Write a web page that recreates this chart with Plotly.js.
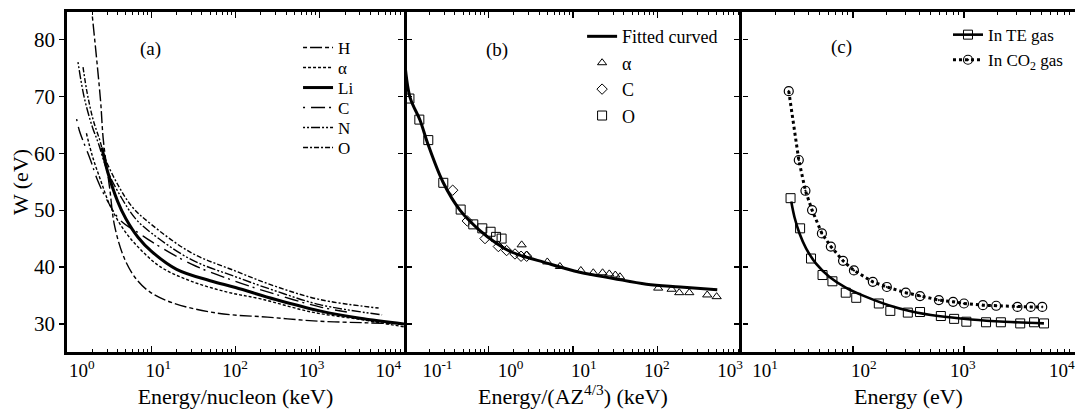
<!DOCTYPE html>
<html><head><meta charset="utf-8">
<script src="https://cdn.plot.ly/plotly-3.0.1.min.js"></script>
<style>html,body{margin:0;padding:0;background:#fff}#chart{width:1075px;height:413px}</style>
</head><body><div id="chart"></div>
<script>
// ---------- Panel (a): W vs Energy/nucleon (keV) ----------
const hE  = [2.0, 2.5, 2.7, 3.2, 3.7, 4.9, 6.8, 9.7, 18, 61, 240, 950, 3700, 10000];
const hW  = [84, 69.3, 62.3, 54, 47, 41.2, 37.7, 35.6, 33.7, 31.9, 31.2, 30.5, 30.2, 30.0];
const alE = [1.7, 2.0, 2.5, 3.2, 4.5, 7, 13, 30, 80, 200, 800, 3000, 10000];
const alW = [63.5, 59.5, 55.3, 51, 47, 43.5, 40, 37.5, 35.6, 34.4, 32.1, 30.8, 29.5];
const liE = [2.6, 3.0, 4.0, 5.0, 7.0, 10, 20, 50, 100, 300, 1000, 3000, 10000];
const liW = [61, 57, 51.5, 48.5, 45.2, 42.8, 39.6, 37.6, 36.4, 34.3, 32.3, 31.0, 30.0];
const cE  = [1.3, 1.4, 1.9, 2.3, 3.0, 4.3, 7.4, 10, 30, 100, 300, 1000, 2100];
const cW  = [66, 64, 58.8, 55.3, 51.7, 48.2, 45.8, 44.5, 40.5, 37.5, 35.2, 33.0, 32.1];
const nE  = [1.35, 1.6, 2.0, 2.35, 3.0, 4.5, 6.5, 10, 30, 100, 300, 1000, 5500];
const nW  = [76, 69.8, 64.6, 61.8, 57, 52, 48.5, 46, 41.3, 38.3, 35.8, 33.4, 31.6];
const oE  = [1.55, 1.74, 2.05, 2.45, 2.8, 4, 6, 10, 30, 100, 300, 1000, 5000];
const oW  = [75.1, 70.5, 65.8, 62.3, 59.3, 54.5, 50.5, 47.5, 42.5, 39.3, 36.6, 34.3, 32.8];

// ---------- Panel (b): W vs Energy/(A Z^4/3) (keV) ----------
const fitX = [0.1, 0.118, 0.155, 0.19, 0.29, 0.46, 0.78, 1.24, 1.9, 4.9, 12, 30, 74, 186, 510];
const fitW = [77.5, 69.8, 65.8, 61.8, 54.9, 50, 46.5, 44.2, 42.6, 40.7, 39.1, 38, 37, 36.5, 36.0];
const bAlX = [2.47, 2.83, 4.97, 7.01, 12.4, 17.4, 22.4, 26.9, 31.7, 36.0, 102, 147, 181, 238, 388, 502];
const bAlW = [43.9, 42.1, 40.9, 40.1, 39.4, 39.0, 39.0, 38.8, 38.6, 38.3, 36.3, 36.1, 35.5, 35.5, 35.1, 34.8];
const bCX  = [0.377, 0.561, 0.910, 1.31, 1.64, 2.06, 2.43, 2.83];
const bCW  = [53.5, 48.1, 45.0, 43.6, 42.9, 42.3, 41.9, 41.9];
const bOX  = [0.116, 0.152, 0.194, 0.292, 0.469, 0.661, 0.845, 1.06, 1.23, 1.43];
const bOW  = [69.6, 65.9, 62.3, 54.8, 50.1, 47.5, 46.8, 46.2, 45.3, 45.0];

// ---------- Panel (c): W vs Energy (eV) ----------
const teE = [27.4, 33.4, 41.9, 53.2, 65.3, 86.1, 107, 171, 217, 312, 402, 619, 815, 1050, 1580, 2150, 3210, 4280, 5260];
const teW = [52.1, 46.8, 41.5, 38.6, 37.5, 35.5, 34.6, 33.6, 32.3, 32.0, 32.1, 31.4, 30.9, 30.4, 30.3, 30.3, 30.1, 30.3, 30.1];
const teFitE = [27.8, 29.7, 33.0, 37.8, 46.5, 61.1, 86.1, 130, 209, 339, 586, 1160, 2310, 5250];
const teFitW = [51.5, 48.8, 45.9, 43.3, 40.6, 38.3, 36.4, 34.8, 33.3, 32.2, 31.4, 30.8, 30.4, 30.1];
const co2E = [26.4, 32.5, 37.3, 42.8, 52.5, 63.2, 81.4, 102, 151, 202, 299, 402, 594, 798, 1000, 1480, 1950, 3030, 3990, 5070];
const co2W = [70.9, 58.8, 53.4, 50.0, 45.9, 43.6, 41.1, 39.4, 37.4, 36.5, 35.5, 34.9, 34.2, 33.9, 33.6, 33.3, 33.2, 33.0, 33.0, 33.0];

// ---------- Tick labels ----------
const yTicks = [30, 40, 50, 60, 70, 80];
const aTickVals = [1, 10, 100, 1000, 10000];
const aTickText = ['10<sup>0</sup>', '10<sup>1</sup>', '10<sup>2</sup>', '10<sup>3</sup>', '10<sup>4</sup>'];
const bTickVals = [0.1, 1, 10, 100, 1000];
const bTickText = ['10<sup>-1</sup>', '10<sup>0</sup>', '10<sup>1</sup>', '10<sup>2</sup>', '10<sup>3</sup>'];
const cTickVals = [10, 100, 1000, 10000];
const cTickText = ['10<sup>1</sup>', '10<sup>2</sup>', '10<sup>3</sup>', '10<sup>4</sup>'];

function minorVals(d0, d1) {
  const v = [];
  for (let d = d0; d < d1; d++) for (let k = 2; k <= 9; k++) v.push(k * Math.pow(10, d));
  return v;
}

const K = '#000';
const FONT = 'Liberation Serif';
const thin = 1.4;
const BORDER = 2.8;

const traces = [
  {x: hE, y: hW, name: 'H', mode: 'lines', line: {color: K, width: thin, dash: '4px,3px,12px,3px', shape: 'spline'}, xaxis: 'x', yaxis: 'y', legend: 'legend'},
  {x: alE, y: alW, name: 'α', mode: 'lines', line: {color: K, width: thin, dash: '3px,2px', shape: 'spline'}, xaxis: 'x', yaxis: 'y', legend: 'legend4'},
  {x: liE, y: liW, name: 'Li', mode: 'lines', line: {color: K, width: 3, shape: 'spline'}, xaxis: 'x', yaxis: 'y', legend: 'legend5'},
  {x: cE, y: cW, name: 'C', mode: 'lines', line: {color: K, width: thin, dash: '2px,6px,14px,4px', shape: 'spline'}, xaxis: 'x', yaxis: 'y', legend: 'legend6'},
  {x: nE, y: nW, name: 'N', mode: 'lines', line: {color: K, width: thin, dash: '2px,2px,2px,2px,9px,2px', shape: 'spline'}, xaxis: 'x', yaxis: 'y', legend: 'legend7'},
  {x: oE, y: oW, name: 'O', mode: 'lines', line: {color: K, width: thin, dash: '5px,2px,2px,2px', shape: 'spline'}, xaxis: 'x', yaxis: 'y', legend: 'legend8'},

  {x: fitX, y: fitW, name: 'Fitted curved', mode: 'lines', line: {color: K, width: 3, shape: 'spline'}, xaxis: 'x2', yaxis: 'y2', legend: 'legend2'},
  {x: bAlX, y: bAlW, name: 'α', mode: 'markers', marker: {symbol: 'triangle-up-open', size: 8, color: K, line: {width: 1}}, xaxis: 'x2', yaxis: 'y2', legend: 'legend2'},
  {x: bCX, y: bCW, name: 'C', mode: 'markers', marker: {symbol: 'diamond-open', size: 8, color: K, line: {width: 1}}, xaxis: 'x2', yaxis: 'y2', legend: 'legend2'},
  {x: bOX, y: bOW, name: 'O', mode: 'markers', marker: {symbol: 'square-open', size: 9, color: K, line: {width: 1}}, xaxis: 'x2', yaxis: 'y2', legend: 'legend2'},

  {x: teFitE, y: teFitW, name: 'In TE gas', mode: 'lines', line: {color: K, width: 2.6, shape: 'spline'}, showlegend: false, xaxis: 'x3', yaxis: 'y3'},
  {x: teE, y: teW, name: 'In TE gas', mode: 'markers', marker: {symbol: 'square-open', size: 9, color: K, line: {width: 1}}, showlegend: false, xaxis: 'x3', yaxis: 'y3'},
  {x: [null], y: [null], name: 'In TE gas', mode: 'lines+markers', line: {color: K, width: 2.6}, marker: {symbol: 'square-open', size: 9, color: K, line: {width: 1}}, xaxis: 'x3', yaxis: 'y3', legend: 'legend3'},
  {x: co2E, y: co2W, name: 'In CO<sub>2</sub> gas', mode: 'lines+markers', line: {color: K, width: 3, dash: 'dot'}, marker: {symbol: 'circle-open-dot', size: 9, color: K, line: {width: 1.2}}, xaxis: 'x3', yaxis: 'y3', legend: 'legend3'},

  // empty traces so the tick-label axes are drawn
  {x: [], y: [], xaxis: 'x4', yaxis: 'y', showlegend: false, hoverinfo: 'skip'},
  {x: [], y: [], xaxis: 'x5', yaxis: 'y2', showlegend: false, hoverinfo: 'skip'},
  {x: [], y: [], xaxis: 'x6', yaxis: 'y3', showlegend: false, hoverinfo: 'skip'}
];

const yRange = [25.08, 84.8];
function yAx(anchor, labels, line) {
  return {
    anchor: anchor, domain: [0, 1], range: yRange, autorange: false,
    tickmode: 'array', tickvals: yTicks, showticklabels: labels,
    ticks: 'outside', ticklen: 5, tickwidth: 1.2, tickcolor: K,
    showline: line, linewidth: BORDER, linecolor: K, mirror: 'ticks',
    showgrid: false, zeroline: false,
    tickfont: {size: 21, color: K, family: FONT}
  };
}
function xAx(anchor, domain, range, vals) {
  return {
    anchor: anchor, domain: domain, type: 'log', range: range, autorange: false,
    tickmode: 'array', tickvals: vals, showticklabels: false,
    ticks: 'inside', ticklen: 6, tickwidth: 1.2, tickcolor: K,
    minor: {ticks: 'inside', ticklen: 3, tickwidth: 1, tickcolor: K, tickmode: 'array', tickvals: minorVals(Math.floor(range[0]) - 1, Math.ceil(range[1]) + 1), showgrid: false},
    showline: true, linewidth: BORDER, linecolor: K, mirror: 'ticks',
    showgrid: false, zeroline: false
  };
}
function labelAx(over, anchor, domain, range, vals, text, title) {
  return {
    overlaying: over, anchor: anchor, domain: domain, side: 'bottom', type: 'log', range: range, autorange: false,
    tickmode: 'array', tickvals: vals, ticktext: text, ticks: '', showline: false,
    showgrid: false, zeroline: false, ticklabelstandoff: 5,
    tickfont: {size: 19, color: K, family: FONT},
    title: {text: title, font: {size: 22, color: K, family: FONT}, standoff: 8}
  };
}
function oneLegend(yTop) {
  return {x: 0.2292, y: yTop, xanchor: 'left', yanchor: 'top', bgcolor: 'rgba(0,0,0,0)', borderwidth: 0, font: {size: 17, color: K, family: FONT}};
}

const dA = [0, 0.3343], dB = [0.3343, 0.6696], dC = [0.6696, 1];
const NB = '\u00a0';

const layout = {
  width: 1075, height: 413,
  margin: {l: 67, r: 0, t: 12, b: 61},
  paper_bgcolor: '#fff', plot_bgcolor: '#fff',
  font: {family: FONT, color: K},
  showlegend: true,
  xaxis: xAx('y', dA, [0, 4], aTickVals),
  xaxis2: xAx('y2', dB, [-1, 3], bTickVals),
  xaxis3: xAx('y3', dC, [1, 4], cTickVals),
  xaxis4: labelAx('x', 'y', dA, [-0.192, 4.205], aTickVals, aTickText, 'Energy/nucleon (keV)'),
  xaxis5: labelAx('x2', 'y2', dB, [-1.458, 3.164], bTickVals, bTickText, 'Energy/(AZ<sup>4/3</sup>) (keV)'),
  xaxis6: labelAx('x3', 'y3', dC, [0.767, 4.134], cTickVals, cTickText, NB.repeat(10) + 'Energy (eV)'),
  yaxis: Object.assign(yAx('x', true, true), {title: {text: 'W (eV)', font: {size: 22, color: K, family: FONT}, standoff: 0}}),
  yaxis2: yAx('x2', false, false),
  yaxis3: yAx('x3', false, true),
  legend: oneLegend(0.9471),
  legend4: oneLegend(0.8882),
  legend5: oneLegend(0.8294),
  legend6: oneLegend(0.7706),
  legend7: oneLegend(0.7118),
  legend8: oneLegend(0.6529),
  legend2: {x: 0.511, y: 0.982, xanchor: 'left', yanchor: 'top', bgcolor: 'rgba(0,0,0,0)', borderwidth: 0, font: {size: 18, color: K, family: FONT}, tracegroupgap: 0},
  legend3: {x: 0.874, y: 0.985, xanchor: 'left', yanchor: 'top', bgcolor: 'rgba(0,0,0,0)', borderwidth: 0, font: {size: 17, color: K, family: FONT}, tracegroupgap: 0},
  annotations: [
    {xref: 'x domain', yref: 'y domain', x: 0.248, y: 0.891, xanchor: 'center', yanchor: 'middle', text: '(a)', showarrow: false, font: {size: 19, color: K, family: FONT}},
    {xref: 'x2 domain', yref: 'y2 domain', x: 0.274, y: 0.888, xanchor: 'center', yanchor: 'middle', text: '(b)', showarrow: false, font: {size: 19, color: K, family: FONT}},
    {xref: 'x3 domain', yref: 'y3 domain', x: 0.299, y: 0.897, xanchor: 'center', yanchor: 'middle', text: '(c)', showarrow: false, font: {size: 19, color: K, family: FONT}}
  ]
};

Plotly.newPlot('chart', traces, layout, {displayModeBar: false, staticPlot: true});
</script>
</body></html>
